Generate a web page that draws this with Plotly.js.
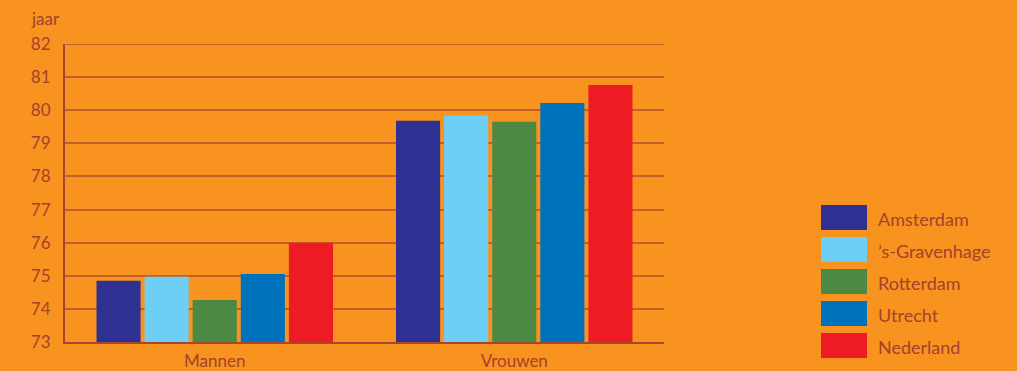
<!DOCTYPE html>
<html>
<head>
<meta charset="utf-8">
<script src="https://cdn.plot.ly/plotly-3.0.1.min.js"></script>
<style>html,body{margin:0;padding:0;background:#f7931e;}#chart{width:1017px;height:371px;}</style>
</head>
<body>
<div id="chart"></div>
<script>
const categories = ["Mannen", "Vrouwen"];
const seriesNames = ["Amsterdam", "\u2019s-Gravenhage", "Rotterdam", "Utrecht", "Nederland"];
const amsterdam = [74.85, 79.68];
const gravenhage = [74.97, 79.84];
const rotterdam = [74.27, 79.65];
const utrecht = [75.05, 80.22];
const nederland = [76.0, 80.76];
const seriesColors = ["#2e3192", "#6dcff6", "#4c8a44", "#0072bc", "#ed1c24"];
const yTicks = [73, 74, 75, 76, 77, 78, 79, 80, 81, 82];
const yUnit = "jaar";

const values = [amsterdam, gravenhage, rotterdam, utrecht, nederland];
const textColor = "#a3422e";
const W = 1017, H = 371;
const m = {l: 65, r: 353, t: 44, b: 29};
const pw = W - m.l - m.r, ph = H - m.t - m.b;
const px = x => (x - m.l) / pw;
const py = y => (H - m.b - y) / ph;

const traces = seriesNames.map((n, i) => ({
  type: "bar", name: n, x: categories, y: values[i],
  marker: {color: seriesColors[i], line: {width: 0}},
  hoverinfo: "y", showlegend: false
}));

const shapes = [{type: "line", xref: "paper", yref: "y", x0: 0, x1: 1,
  y0: yTicks[yTicks.length - 1], y1: yTicks[yTicks.length - 1],
  line: {color: "#c0612b", width: 2}, layer: "below"}];
const annotations = [];
seriesNames.forEach((n, i) => {
  const cy = 217.5 + i * 32;
  shapes.push({type: "rect", xref: "paper", yref: "paper",
    x0: px(821), x1: px(867), y0: py(cy + 12.5), y1: py(cy - 12.5),
    fillcolor: seriesColors[i], line: {width: 0}});
  annotations.push({xref: "paper", yref: "paper", x: px(876), y: py(cy + 1),
    xanchor: "left", yanchor: "middle", text: n, showarrow: false,
    font: {family: "Lato, sans-serif", size: 18, color: textColor}});
});
annotations.push({xref: "paper", yref: "paper", x: px(45), y: py(18),
  xanchor: "center", yanchor: "middle", text: yUnit, showarrow: false,
  font: {family: "Lato, sans-serif", size: 17, color: textColor}});

const layout = {
  width: W, height: H,
  margin: m,
  paper_bgcolor: "#f7931e", plot_bgcolor: "#f7931e",
  barmode: "group", bargap: 0.197, bargroupgap: 0.083,
  showlegend: false,
  xaxis: {type: "category", range: [-0.5, 1.5], showgrid: false,
    showline: true, linecolor: "#a84430", linewidth: 2, ticks: "",
    ticklabelstandoff: 3,
    tickfont: {family: "Lato, sans-serif", size: 17, color: textColor},
    zeroline: false, fixedrange: true},
  yaxis: {range: [73, 82], tickvals: yTicks,
    ticktext: yTicks.map(String), showgrid: true, gridcolor: "#c0612b", gridwidth: 2,
    showline: true, linecolor: "#a84430", linewidth: 2, ticks: "",
    ticklabelstandoff: 9, zeroline: false,
    tickfont: {family: "Lato, sans-serif", size: 17, color: textColor}, fixedrange: true},
  shapes: shapes, annotations: annotations,
  font: {family: "Lato, sans-serif", color: textColor}
};

Plotly.newPlot("chart", traces, layout, {displayModeBar: false, staticPlot: true});
</script>
</body>
</html>
